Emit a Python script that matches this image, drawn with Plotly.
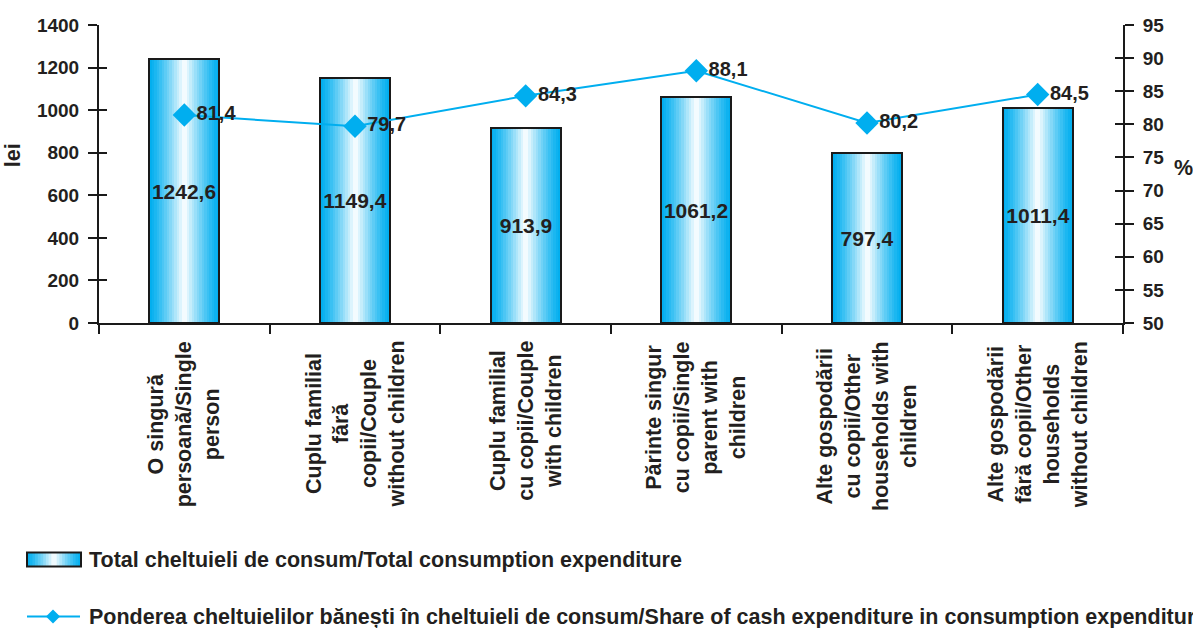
import plotly.graph_objects as go

# data
categories = [
    "O singură<br>persoană/Single<br>person",
    "Cuplu familial<br>fără<br>copii/Couple<br>without children",
    "Cuplu familial<br>cu copii/Couple<br>with children",
    "Părinte singur<br>cu copii/Single<br>parent with<br>children",
    "Alte gospodării<br>cu copii/Other<br>households with<br>children",
    "Alte gospodării<br>fără copii/Other<br>households<br>without children",
]
total_expenditure = [1242.6, 1149.4, 913.9, 1061.2, 797.4, 1011.4]
cash_share = [81.4, 79.7, 84.3, 88.1, 80.2, 84.5]

bar_name = "Total cheltuieli de consum/Total consumption expenditure"
line_name = ("Ponderea cheltuielilor bănești în cheltuieli de consum/"
             "Share of cash expenditure in consumption expenditure")

W, H = 1193, 628
ML, MR, MT, MB = 99, 70, 24.5, 305
PW, PH = W - ML - MR, H - MT - MB

CYAN = (0, 174, 239)
TXT = "#231f20"
FONT = "Liberation Sans, Arial, sans-serif"


def grad_color(t):
    # cyan at the edges, white in the middle
    m = max(0.0, 1 - abs(2 * t - 1)) ** 1.3
    r, g, b = [round(c + (255 - c) * m) for c in CYAN]
    return f"rgb({r},{g},{b})"


def px(x):
    # pixel -> paper x
    return (x - ML) / PW


def py(y):
    # pixel -> paper y
    return (H - MB - y) / PH


fig = go.Figure()

# gradient bars made of thin strips
bar_w = 0.41
n_strips = 28
sw = bar_w / n_strips
for i in range(n_strips):
    t = (i + 0.5) / n_strips
    fig.add_trace(go.Bar(
        x=categories, y=total_expenditure,
        width=min(sw * 1.6, bar_w - i * sw), offset=-bar_w / 2 + i * sw,
        marker=dict(color=grad_color(t), line=dict(width=0)),
        showlegend=False, hoverinfo="skip",
    ))

# outline + values
fig.add_trace(go.Bar(
    x=categories, y=total_expenditure, name=bar_name,
    width=bar_w, offset=-bar_w / 2,
    marker=dict(color="rgba(0,0,0,0)", line=dict(color="#1a1a1a", width=2)),
    text=[f"{v:.1f}".replace(".", ",") for v in total_expenditure],
    textposition="inside", insidetextanchor="middle", constraintext="none",
    textangle=0,
    textfont=dict(family=FONT, size=21, color=TXT, weight="bold"),
    showlegend=False,
))

fig.add_trace(go.Scatter(
    x=categories, y=cash_share, name=line_name, yaxis="y2",
    mode="lines+markers+text",
    line=dict(color="rgb(0,174,239)", width=2),
    marker=dict(symbol="diamond", size=18, color="rgb(0,174,239)"),
    text=[f"{v:.1f}".replace(".", ",") for v in cash_share],
    textposition="middle right",
    textfont=dict(family=FONT, size=20, color=TXT, weight="bold"),
    showlegend=False,
))

# empty traces so inner tick halves get drawn
fig.add_trace(go.Scatter(x=[], y=[], yaxis="y3", showlegend=False))
fig.add_trace(go.Scatter(x=[], y=[], yaxis="y4", showlegend=False))

tickfont = dict(family=FONT, size=19, color=TXT, weight="bold")
axis_common = dict(showgrid=False, zeroline=False, linecolor="#1a1a1a", linewidth=2,
                   tickcolor="#1a1a1a", tickwidth=2, ticklen=9, ticks="outside",
                   tickfont=tickfont, ticklabelstandoff=5)

fig.update_layout(
    width=W, height=H,
    margin=dict(l=ML, r=MR, t=MT, b=MB),
    paper_bgcolor="white", plot_bgcolor="white",
    barmode="overlay", bargap=0,
    showlegend=False,
    xaxis=dict(type="category", range=[-0.5, 5.5], showticklabels=False,
               tickson="boundaries", showline=True, linecolor="#1a1a1a", linewidth=2,
               ticks="outside", ticklen=9, tickwidth=2, tickcolor="#1a1a1a",
               showgrid=False, zeroline=False),
    yaxis=dict(range=[0, 1400], dtick=200, showline=True, **axis_common),
    yaxis2=dict(range=[50, 95], dtick=5, overlaying="y", side="right", showline=True,
                **axis_common),
    yaxis3=dict(range=[0, 1400], dtick=200, overlaying="y", side="left", ticks="inside",
                ticklen=8, tickwidth=2, tickcolor="#1a1a1a", showticklabels=False,
                showline=False, showgrid=False, zeroline=False),
    yaxis4=dict(range=[50, 95], dtick=5, overlaying="y", side="right", ticks="inside",
                ticklen=8, tickwidth=2, tickcolor="#1a1a1a", showticklabels=False,
                showline=False, showgrid=False, zeroline=False),
)

lblfont = dict(family=FONT, size=21.5, color=TXT, weight="bold")

# category labels, rotated and centred
for c in categories:
    fig.add_annotation(x=c, y=0, xref="x", yref="paper", yanchor="top", xanchor="center",
                       yshift=-16, text=c, textangle=-90, align="center",
                       showarrow=False, font=lblfont)

# axis titles
fig.add_annotation(x=px(13), y=py(155), xref="paper", yref="paper", text="lei",
                   xanchor="center", yanchor="middle",
                   textangle=-90, showarrow=False, font=lblfont)
fig.add_annotation(x=px(1183), y=py(168), xref="paper", yref="paper", text="%",
                   xanchor="center", yanchor="middle",
                   showarrow=False, font=lblfont)

# legend drawn by hand
lx0, lx1, ly0, ly1 = 27, 81, 553, 567
n_leg = 20
for i in range(n_leg):
    a = lx0 + (lx1 - lx0) * i / n_leg
    b = lx0 + (lx1 - lx0) * (i + 1.3) / n_leg
    fig.add_shape(type="rect", xref="paper", yref="paper",
                  x0=px(a), x1=px(min(b, lx1)), y0=py(ly1), y1=py(ly0),
                  fillcolor=grad_color((i + 0.5) / n_leg), line=dict(width=0))
fig.add_shape(type="rect", xref="paper", yref="paper",
              x0=px(lx0), x1=px(lx1), y0=py(ly1), y1=py(ly0),
              line=dict(color="#1a1a1a", width=2))
fig.add_annotation(x=px(87), y=py(560), xref="paper", yref="paper",
                   xanchor="left", yanchor="middle",
                   text=bar_name, showarrow=False, font=lblfont)

ly = 617
fig.add_shape(type="line", xref="paper", yref="paper", x0=px(27), x1=px(80),
              y0=py(ly), y1=py(ly), line=dict(color="rgb(0,174,239)", width=2))
d = 7
fig.add_shape(type="path", xref="paper", yref="paper",
              path=(f"M {px(53 - d)} {py(ly)} L {px(53)} {py(ly - d)} "
                    f"L {px(53 + d)} {py(ly)} L {px(53)} {py(ly + d)} Z"),
              fillcolor="rgb(0,174,239)", line=dict(width=0))
fig.add_annotation(x=px(87), y=py(ly), xref="paper", yref="paper",
                   xanchor="left", yanchor="middle",
                   text=line_name, showarrow=False, font=lblfont)

# drop the default body margin so the figure sits at the page corner
fig.write_html("out.html",
               config={"displayModeBar": False},
               post_script="document.body.style.margin='0';"
                           "document.body.style.overflow='hidden';")
